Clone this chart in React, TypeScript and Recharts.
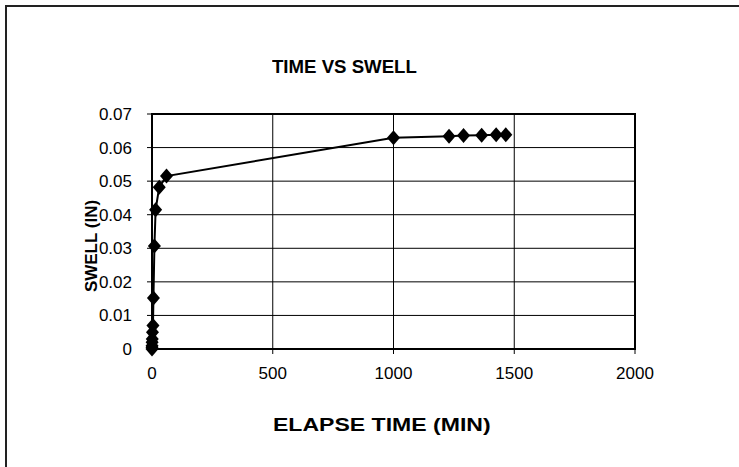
import React from 'react'
import {
  ScatterChart,
  Scatter,
  XAxis,
  YAxis,
  CartesianGrid,
  ReferenceArea,
} from 'recharts'

// elapsed time (min) and swell (in)
const elapseMin = [0, 0.1, 0.25, 0.5, 1, 2, 4, 6, 10, 15, 30, 60, 1000, 1230, 1290, 1365, 1425, 1465]
const swellIn = [0, 0.0005, 0.001, 0.002, 0.003, 0.005, 0.007, 0.0152, 0.0307, 0.0415, 0.0482, 0.0515, 0.0629, 0.0634, 0.0636, 0.0637, 0.0638, 0.0638]
const xTicks = [0, 500, 1000, 1500, 2000]
const yTicks = [0, 0.01, 0.02, 0.03, 0.04, 0.05, 0.06, 0.07]

const points = elapseMin.map((t, i) => ({ t, s: swellIn[i] }))

const font = 'Arial, "Liberation Sans", sans-serif'

const Diamond = (props: any) => {
  const { cx, cy } = props
  if (cx == null || cy == null) return null
  return (
    <polygon
      points={`${cx},${cy - 7.5} ${cx + 6.5},${cy} ${cx},${cy + 7.5} ${cx - 6.5},${cy}`}
      fill='#000'
    />
  )
}

const tickStyle = { fill: '#000', fontSize: 17, fontFamily: font }

export default function App() {
  return (
    <div style={{ position: 'absolute', left: 0, top: 0, width: 739, height: 467, background: '#fff', fontFamily: font }}>
      <div style={{ position: 'absolute', left: 5, top: 5, width: 734, height: 462, borderLeft: '2px solid #222', borderTop: '2px solid #222' }} />
      <div
        style={{
          position: 'absolute',
          left: 272,
          top: 56,
          fontSize: 19,
          fontWeight: 'bold',
          whiteSpace: 'nowrap',
          transform: 'scaleX(0.98)',
          transformOrigin: 'left',
        }}
      >
        TIME VS SWELL
      </div>
      <div
        style={{
          position: 'absolute',
          left: 273,
          top: 415,
          fontSize: 18,
          fontWeight: 'bold',
          whiteSpace: 'nowrap',
          transform: 'scaleX(1.28)',
          transformOrigin: 'left',
        }}
      >
        ELAPSE TIME (MIN)
      </div>
      <div
        style={{
          position: 'absolute',
          left: 92,
          top: 246,
          transform: 'translate(-50%, -50%) rotate(-90deg)',
          whiteSpace: 'nowrap',
          fontSize: 17,
          fontWeight: 'bold',
        }}
      >
        SWELL (IN)
      </div>
      <ScatterChart
        width={739}
        height={467}
        margin={{ top: 114, right: 104, bottom: 88, left: 92 }}
        style={{ position: 'absolute', left: 0, top: 0 }}
      >
        <CartesianGrid stroke='#000' strokeWidth={1} />
        <XAxis
          type='number'
          dataKey='t'
          domain={[0, 2000]}
          ticks={xTicks}
          height={30}
          tick={tickStyle}
          tickSize={5}
          tickMargin={13}
          axisLine={{ stroke: '#000', strokeWidth: 2 }}
          tickLine={{ stroke: '#000' }}
        />
        <YAxis
          type='number'
          dataKey='s'
          domain={[0, 0.07]}
          ticks={yTicks}
          width={60}
          tick={tickStyle}
          tickSize={5}
          tickMargin={15}
          tickFormatter={(v: number) => String(v)}
          axisLine={{ stroke: '#000', strokeWidth: 2 }}
          tickLine={{ stroke: '#000' }}
        />
        <ReferenceArea x1={0} x2={2000} y1={0} y2={0.07} fill='none' stroke='#000' strokeWidth={2} />
        <Scatter
          data={points}
          line={{ stroke: '#000', strokeWidth: 2 }}
          lineType='joint'
          shape={Diamond}
          isAnimationActive={false}
        />
      </ScatterChart>
    </div>
  )
}
